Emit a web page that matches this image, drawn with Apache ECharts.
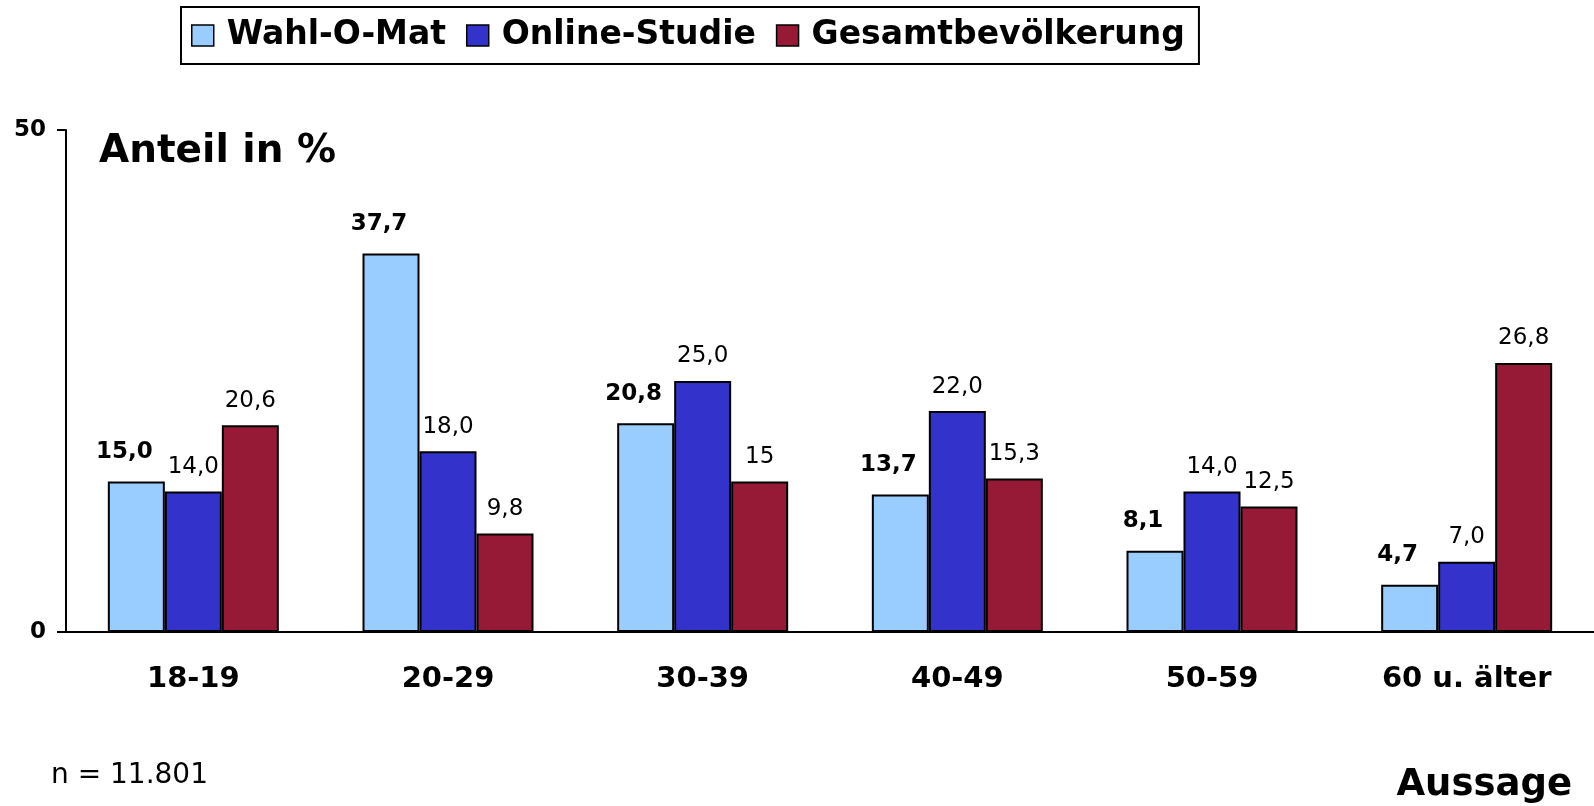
<!DOCTYPE html>
<html>
<head>
  <meta charset="UTF-8">
  <title>Wahl-O-Mat Altersstruktur</title>
  <script src="https://cdn.jsdelivr.net/npm/echarts@6/dist/echarts.min.js"></script>
  <style>
    body { margin: 0; background: #fff; }
  </style>
</head>
<body>
  <div id="main" style="width: 1594px; height: 806px;"></div>

  <script>
    const categories = ['18-19', '20-29', '30-39', '40-49', '50-59', '60 u. älter'];

    const wahlOMat = [15.0, 37.7, 20.8, 13.7, 8.1, 4.7];
    const onlineStudie = [14.0, 18.0, 25.0, 22.0, 14.0, 7.0];
    const gesamt = [20.6, 9.8, 15, 15.3, 12.5, 26.8];

    const yTicks = [0, 50];

    const font = '"DejaVu Sans", Verdana, sans-serif';

    // deutsches Dezimalkomma
    const fixedComma = (p) => p.value.toFixed(1).replace('.', ',');
    const rawComma = (p) => String(p.value).replace('.', ',');

    const barBase = {
      type: 'bar',
      barWidth: 57,
      barGap: '0%'
    };

    const option = {
      animation: false,
      textStyle: { fontFamily: font },
      legend: {
        left: 181,
        top: 7,
        padding: [12, 14, 12, 10],
        borderColor: '#000',
        borderWidth: 2,
        itemWidth: 22,
        itemHeight: 21,
        itemGap: 20,
        icon: 'rect',
        itemStyle: { borderColor: '#000', borderWidth: 1.5 },
        textStyle: {
          fontFamily: font,
          fontWeight: 'bold',
          fontSize: 33,
          color: '#000',
          padding: [0, 0, 0, 8]
        },
        data: ['Wahl-O-Mat', 'Online-Studie', 'Gesamtbevölkerung']
      },
      grid: {
        left: 66,
        top: 130,
        width: 1537,
        height: 502,
        containLabel: false
      },
      xAxis: {
        type: 'category',
        data: categories,
        axisLine: { lineStyle: { color: '#000', width: 2 } },
        axisTick: { length: 9, lineStyle: { color: '#000', width: 2 } },
        axisLabel: {
          margin: 33,
          color: '#000',
          fontFamily: font,
          fontWeight: 'bold',
          fontSize: 29
        }
      },
      yAxis: {
        type: 'value',
        min: yTicks[0],
        max: yTicks[1],
        interval: yTicks[1] - yTicks[0],
        splitLine: { show: false },
        axisLine: { show: true, lineStyle: { color: '#000', width: 2 } },
        axisTick: { show: true, length: 9, lineStyle: { color: '#000', width: 2 } },
        axisLabel: {
          margin: 20,
          color: '#000',
          fontFamily: font,
          fontWeight: 'bold',
          fontSize: 23
        }
      },
      series: [
        Object.assign({}, barBase, {
          name: 'Wahl-O-Mat',
          data: wahlOMat,
          itemStyle: { color: '#99ccff', borderColor: '#000', borderWidth: 2 },
          label: {
            show: true,
            position: 'top',
            distance: 14,
            offset: [-12, -4],
            formatter: fixedComma,
            color: '#000',
            fontFamily: font,
            fontWeight: 'bold',
            fontSize: 23
          }
        }),
        Object.assign({}, barBase, {
          name: 'Online-Studie',
          data: onlineStudie,
          itemStyle: { color: '#3333cc', borderColor: '#000', borderWidth: 2 },
          label: {
            show: true,
            position: 'top',
            distance: 13,
            formatter: fixedComma,
            color: '#000',
            fontFamily: font,
            fontSize: 23
          }
        }),
        Object.assign({}, barBase, {
          name: 'Gesamtbevölkerung',
          data: gesamt,
          itemStyle: { color: '#961a35', borderColor: '#000', borderWidth: 2 },
          label: {
            show: true,
            position: 'top',
            distance: 13,
            formatter: rawComma,
            color: '#000',
            fontFamily: font,
            fontSize: 23
          }
        })
      ],
      graphic: [
        {
          type: 'text',
          left: 99,
          top: 132,
          style: {
            text: 'Anteil in %',
            font: 'bold 39px ' + font,
            fill: '#000'
          }
        },
        {
          type: 'text',
          left: 51,
          top: 762,
          style: {
            text: 'n = 11.801',
            font: '28px ' + font,
            fill: '#000'
          }
        },
        {
          type: 'text',
          right: 22,
          top: 767,
          style: {
            text: 'Aussage',
            font: 'bold 37px ' + font,
            fill: '#000'
          }
        }
      ]
    };

    const chart = echarts.init(document.getElementById('main'));
    chart.setOption(option);
  </script>
</body>
</html>
